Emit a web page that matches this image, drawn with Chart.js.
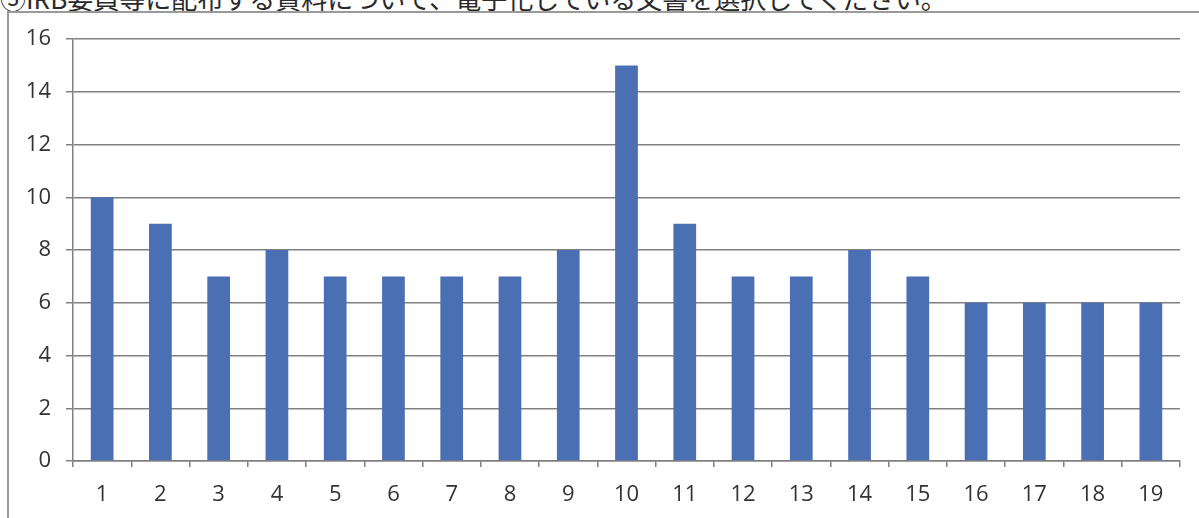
<!DOCTYPE html>
<html>
<head>
<meta charset="utf-8">
<script src="https://cdn.jsdelivr.net/npm/chart.js@4/dist/chart.umd.min.js"></script>
<style>
  html, body { margin: 0; padding: 0; background: #fff; overflow: hidden; }
  #wrap { position: relative; width: 1199px; height: 518px; overflow: hidden; }
  #title {
    position: absolute; left: 0; top: -21px; white-space: nowrap;
    font-family: "Noto Sans CJK JP", sans-serif; font-size: 26px; color: #2a2a2a;
  }
  #frame {
    position: absolute; left: 7px; top: 11px; width: 1200px; height: 520px;
    border-left: 2px solid #9a9a9a; border-top: 2px solid #9a9a9a;
  }
  #chart { position: absolute; left: 0; top: 0; }
</style>
</head>
<body>
<div id="wrap">
  <div id="title">⑤IRB委員等に配布する資料について、電子化している文書を選択してください。</div>
  <div id="frame"></div>
  <canvas id="chart" width="1199" height="518"></canvas>
</div>
<script>
const labels = ["1","2","3","4","5","6","7","8","9","10","11","12","13","14","15","16","17","18","19"];
const counts = [10, 9, 7, 8, 7, 7, 7, 7, 8, 15, 9, 7, 7, 8, 7, 6, 6, 6, 6];
const yTicks = [0, 2, 4, 6, 8, 10, 12, 14, 16];

const gridColor = "#808080";
const tickFont = { family: "'Open Sans', sans-serif", size: 22 };

const ctx = document.getElementById("chart").getContext("2d");
new Chart(ctx, {
  type: "bar",
  data: {
    labels: labels,
    datasets: [
      {
        data: counts,
        backgroundColor: "#4b6fb3",
        borderWidth: 0,
        barPercentage: 0.39,
        categoryPercentage: 1.0,
      },
    ],
  },
  options: {
    responsive: false,
    animation: false,
    layout: { padding: { left: 0, top: 39, right: 19, bottom: 0 } },
    plugins: { legend: { display: false }, tooltip: { enabled: false } },
    scales: {
      x: {
        offset: true,
        grid: {
          offset: true,
          drawOnChartArea: false,
          drawTicks: true,
          tickLength: 6,
          color: gridColor,
          lineWidth: 1.5,
        },
        border: { color: gridColor, width: 1.5 },
        ticks: { color: "#333", font: tickFont, padding: 15, maxRotation: 0 },
        afterFit: (scale) => { scale.height = 57; },
      },
      y: {
        min: 0,
        max: 16,
        afterBuildTicks: (scale) => { scale.ticks = yTicks.map((v) => ({ value: v })); },
        grid: {
          color: gridColor,
          lineWidth: 1.5,
          tickLength: 7,
        },
        border: { color: gridColor, width: 1.5 },
        ticks: { color: "#333", font: tickFont, padding: 15 },
        afterFit: (scale) => { scale.width = 73; },
      },
    },
  },
});
</script>
</body>
</html>
